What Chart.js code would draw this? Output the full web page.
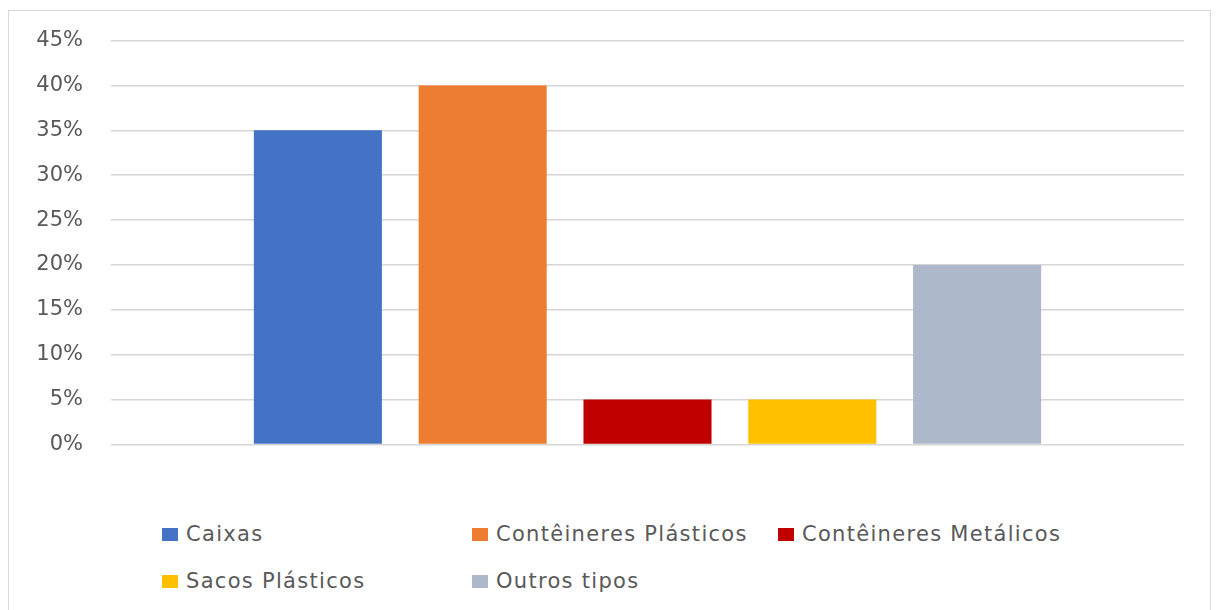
<!DOCTYPE html>
<html>
<head>
<meta charset="utf-8">
<script src="https://cdn.jsdelivr.net/npm/chart.js@4"></script>
<style>
  body { margin: 0; background: #fff; width: 1218px; height: 610px; overflow: hidden; }
  .frame { position: absolute; left: 8px; top: 10px; width: 1201px; height: 610px; border: 1px solid #d9d9d9; }
  .chartBox { position: absolute; left: 0; top: -11px; width: 1201px; height: 485px; }
  .legend { position: absolute; left: 153px; top: 508px; display: grid; grid-template-columns: 310px 306px auto; row-gap: 17px; font-family: "DejaVu Sans", sans-serif; font-size: 21px; letter-spacing: 1.3px; color: #595959; }
  .legendItem { display: flex; align-items: center; height: 30px; white-space: nowrap; }
  .legendBox { width: 16px; height: 13px; margin-right: 8px; }
</style>
</head>
<body>
<div class="frame">
  <div class="chartBox"><canvas id="packChart"></canvas></div>
  <div class="legend" id="legend"></div>
</div>
<script>
// data
const categories = [''];
const seriesNames = ['Caixas', 'Contêineres Plásticos', 'Contêineres Metálicos', 'Sacos Plásticos', 'Outros tipos'];
const seriesValues = [0.35, 0.40, 0.05, 0.05, 0.20];
const seriesColors = ['#4472C4', '#ED7D31', '#C00000', '#FFC000', '#ADB9CA'];
const tickValues = [0, 0.05, 0.10, 0.15, 0.20, 0.25, 0.30, 0.35, 0.40, 0.45];

const ctx = document.getElementById('packChart').getContext('2d');
const packChart = new Chart(ctx, {
  type: 'bar',
  data: {
    labels: categories,
    datasets: seriesNames.map((name, i) => ({
      label: name,
      data: [seriesValues[i]],
      backgroundColor: seriesColors[i],
      categoryPercentage: 0.768,
      barPercentage: 0.777
    }))
  },
  options: {
    responsive: true,
    maintainAspectRatio: false,
    animation: false,
    layout: { padding: { left: 5, right: 26, top: 19, bottom: 17 } },
    plugins: {
      legend: { display: false },
      tooltip: { enabled: false }
    },
    scales: {
      x: { display: false },
      y: {
        min: 0,
        max: 0.45,
        afterFit: function (scale) { scale.width = 97; },
        afterBuildTicks: function (scale) { scale.ticks = tickValues.map(v => ({ value: v })); },
        border: { display: false },
        grid: { color: '#d6d6d6', lineWidth: 1.5, drawTicks: false },
        ticks: {
          padding: 28,
          color: '#595959',
          font: { family: '"DejaVu Sans", sans-serif', size: 21 },
          callback: function (v) { return Math.round(v * 100) + '%'; }
        }
      }
    }
  }
});

// legend from the chart's datasets
const legendEl = document.getElementById('legend');
packChart.data.datasets.forEach(ds => {
  const item = document.createElement('div');
  item.className = 'legendItem';
  item.innerHTML = '<span class="legendBox" style="background:' + ds.backgroundColor + '"></span>' + ds.label;
  legendEl.appendChild(item);
});
</script>
</body>
</html>
